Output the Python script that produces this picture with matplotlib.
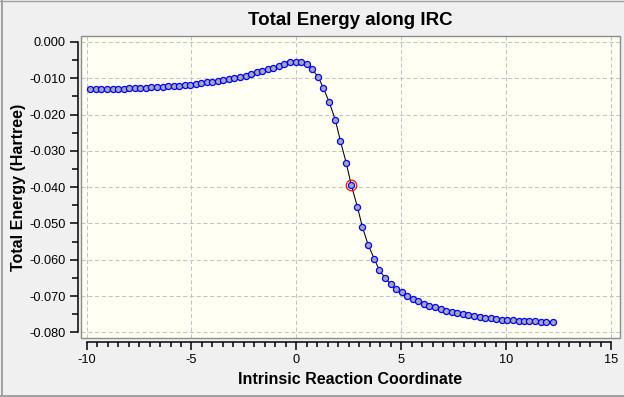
import matplotlib
matplotlib.use("Agg")
import matplotlib.pyplot as plt
from matplotlib.ticker import FixedLocator, MultipleLocator, FuncFormatter
from matplotlib.patches import Rectangle
from matplotlib.lines import Line2D

plt.rcParams['font.family'] = ['Liberation Sans', 'DejaVu Sans']
plt.rcParams['axes.unicode_minus'] = False

title = "Total Energy along IRC"
xlabel = "Intrinsic Reaction Coordinate"
ylabel = "Total Energy (Hartree)"

irc_x = [-9.82, -9.55, -9.30, -9.03, -8.76, -8.52, -8.23, -7.96, -7.71, -7.44,
         -7.17, -6.91, -6.64, -6.37, -6.12, -5.85, -5.58, -5.32, -5.05, -4.80,
         -4.54, -4.27, -4.01, -3.75, -3.48, -3.21, -2.96, -2.68, -2.41, -2.16,
         -1.89, -1.62, -1.36, -1.10, -0.82, -0.57, -0.30, -0.03, 0.22, 0.50,
         0.76, 1.05, 1.29, 1.57, 1.86, 2.10, 2.38, 2.62, 2.91, 3.15,
         3.43, 3.72, 3.96, 4.24, 4.49, 4.76, 5.02, 5.29, 5.54, 5.82,
         6.09, 6.34, 6.61, 6.89, 7.14, 7.41, 7.68, 7.94, 8.20, 8.47,
         8.73, 9.00, 9.27, 9.52, 9.80, 10.06, 10.32, 10.59, 10.86, 11.11,
         11.38, 11.66, 11.91, 12.21]
energy = [-0.01305, -0.01304, -0.01302, -0.01300, -0.01296, -0.01291, -0.01285, -0.01279, -0.01273, -0.01266,
          -0.01258, -0.01250, -0.01241, -0.01232, -0.01222, -0.01212, -0.01201, -0.01189, -0.01177, -0.01149,
          -0.01130, -0.01110, -0.01094, -0.01075, -0.01047, -0.01028, -0.01000, -0.00956, -0.00929, -0.00874,
          -0.00835, -0.00791, -0.00744, -0.00708, -0.00661, -0.00606, -0.00565, -0.00557, -0.00559, -0.00606,
          -0.00758, -0.00973, -0.01276, -0.01662, -0.02158, -0.02728, -0.03343, -0.03949, -0.04547, -0.05106,
          -0.05602, -0.05988, -0.06291, -0.06511, -0.06674, -0.06812, -0.06897, -0.07005, -0.07090, -0.07151,
          -0.07220, -0.07275, -0.07311, -0.07366, -0.07413, -0.07440, -0.07468, -0.07495, -0.07531, -0.07559,
          -0.07586, -0.07605, -0.07614, -0.07641, -0.07661, -0.07669, -0.07672, -0.07680, -0.07688, -0.07690,
          -0.07696, -0.07710, -0.07716, -0.07716]
selected_index = 47

xticks = [-10, -5, 0, 5, 10, 15]
yticks = [0.0, -0.01, -0.02, -0.03, -0.04, -0.05, -0.06, -0.07, -0.08]

W, H = 624, 397
fig = plt.figure(figsize=(W / 100, H / 100), dpi=100)
fig.patch.set_facecolor('#F0F0F0')

ax_l, ax_r, ax_t, ax_b = 81, 619.5, 36, 338
ax = fig.add_axes([ax_l / W, 1 - ax_b / H, (ax_r - ax_l) / W, (ax_b - ax_t) / H])
ax.set_facecolor('#FFFFF4')

ax.set_xlim(-10.267, 15.403)
ax.set_ylim(-0.08157, 0.00165)

# plot-area frame
ax.add_patch(Rectangle((0, 0), 1, 1, transform=ax.transAxes, fill=False,
                       edgecolor='#8C8C8C', lw=1.0, zorder=5, clip_on=False))

for s in ['top', 'right']:
    ax.spines[s].set_visible(False)
ax.spines['left'].set_position(('outward', 2.2))
ax.spines['bottom'].set_position(('outward', 2.9))
ax.spines['left'].set_bounds(-0.08, 0.0)
ax.spines['bottom'].set_bounds(-10, 15)
for s in ['left', 'bottom']:
    ax.spines[s].set_linewidth(1.1)
    ax.spines[s].set_color('black')

ax.xaxis.set_major_locator(FixedLocator(xticks))
ax.xaxis.set_minor_locator(MultipleLocator(0.5))
ax.yaxis.set_major_locator(FixedLocator(yticks))
ax.yaxis.set_minor_locator(MultipleLocator(0.005))
ax.yaxis.set_major_formatter(FuncFormatter(lambda v, p: "%.3f" % (0.0 if abs(v) < 1e-9 else v)))
ax.xaxis.set_major_formatter(FuncFormatter(lambda v, p: "%d" % round(v)))

ax.tick_params(axis='both', which='major', length=5.8, width=1.1, color='black',
               labelsize=9.2, labelcolor='black', pad=2.8)
ax.tick_params(axis='both', which='minor', length=4.0, width=1.1, color='black')
ax.tick_params(axis='x', which='minor', length=3.3)

ax.grid(True, which='major', color='#C4C4C4', linestyle=(0, (4, 2.5)), lw=0.75)
ax.set_axisbelow(True)

ax.plot(irc_x, energy, color='black', lw=0.75, zorder=3)
ax.plot(irc_x, energy, linestyle='none', marker='o', markersize=4.4,
        markerfacecolor='#A6A6B4', markeredgecolor='#0000FF', markeredgewidth=0.9, zorder=4)
ax.plot([irc_x[selected_index]], [energy[selected_index]], linestyle='none', marker='o',
        markersize=7.6, markerfacecolor='none', markeredgecolor='#FF0000', markeredgewidth=0.85, zorder=6)

ax.set_title(title, fontsize=13.5, fontweight='bold', pad=8.0)
ax.set_xlabel(xlabel, fontsize=11.5, fontweight='bold', labelpad=4.5)
ax.set_ylabel(ylabel, fontsize=11.5, fontweight='bold', labelpad=2.5)

# window border
fig.add_artist(Line2D([1.5 / W, 1.5 / W], [0, 1], transform=fig.transFigure, color='#A0A0A0', lw=1.4))
fig.add_artist(Line2D([0, 1], [1 - 0.5 / H, 1 - 0.5 / H], transform=fig.transFigure, color='#A0A0A0', lw=1.0))
fig.add_artist(Line2D([0, 1], [1.5 / H, 1.5 / H], transform=fig.transFigure, color='#A0A0A0', lw=1.4))

fig.savefig('out.png', dpi=100, facecolor=fig.get_facecolor())
